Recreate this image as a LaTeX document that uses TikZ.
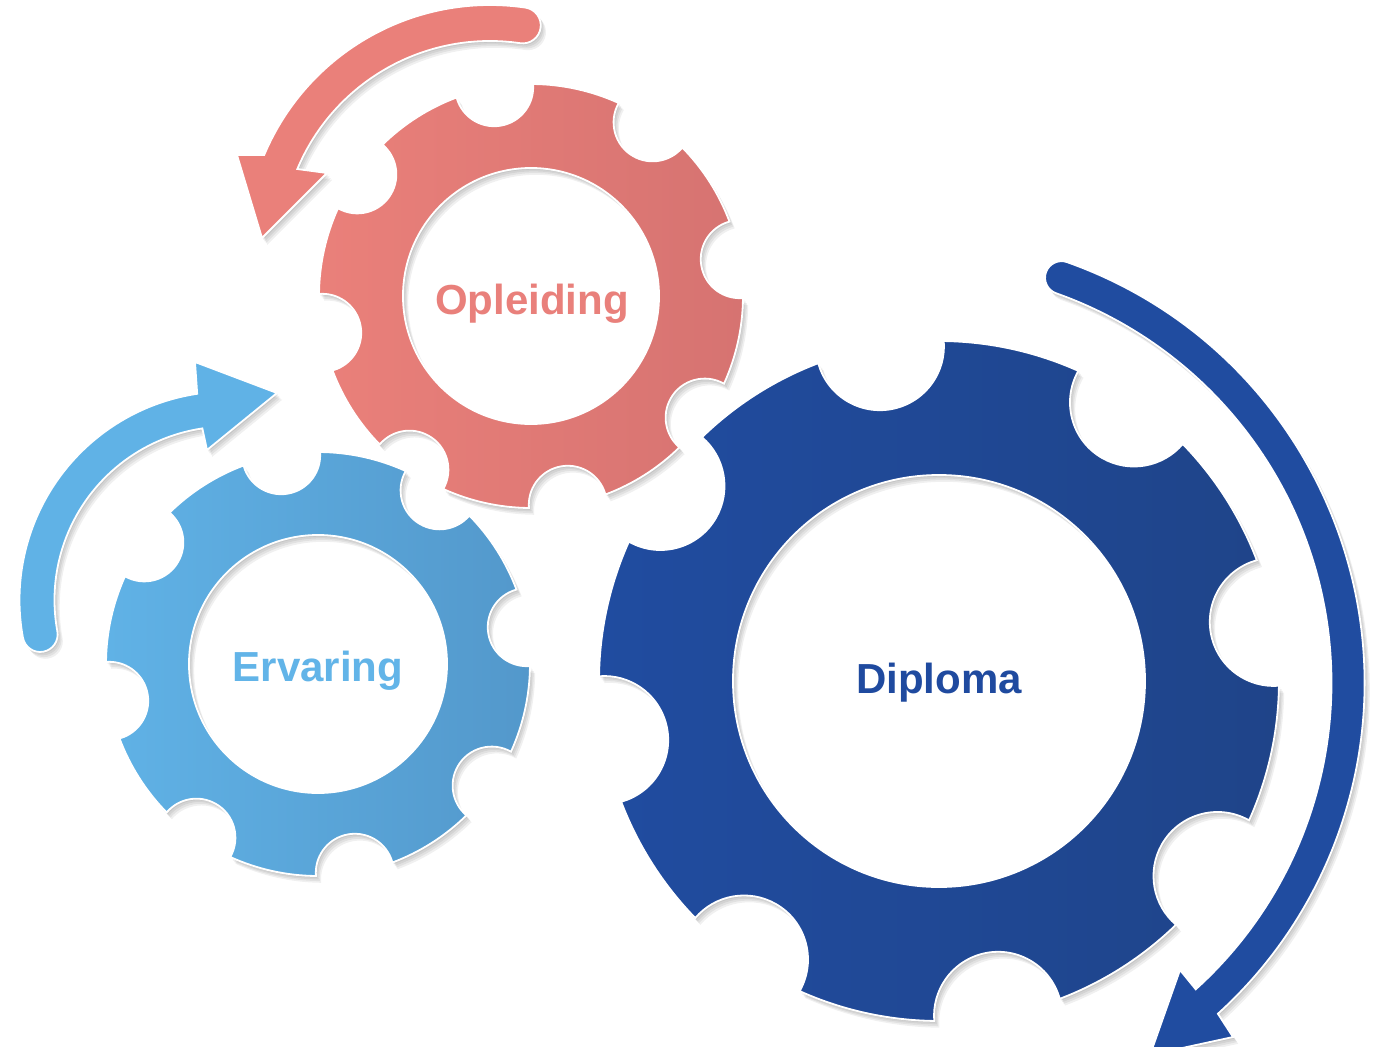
\documentclass[tikz,border=0pt]{standalone}
\usepackage{fontspec}
\setmainfont{Liberation Sans}
\definecolor{pinkA}{HTML}{EA807A}
\definecolor{pinkB}{HTML}{D67371}
\definecolor{lblueA}{HTML}{60B2E6}
\definecolor{lblueB}{HTML}{5398CB}
\definecolor{dblueA}{HTML}{204CA0}
\definecolor{dblueB}{HTML}{1F4489}
\definecolor{pinkT}{HTML}{E9807B}
\definecolor{lblueT}{HTML}{62B4E8}
\definecolor{dblueT}{HTML}{1F4A9F}

% gear outline: centre (#1,#2), outer radius #3, notch radius #4, hole radius #5
\newcommand\gearshape[5]{%
  ([shift={(#1,#2)}]260+\gd:#3)
  \foreach \k in {1,...,8}{
    arc[start angle={260+45*(\k-1)+\gd}, end angle={260+45*\k-\gd}, radius=#3]
    arc[start angle={260+45*\k-\gd/2-90}, end angle={260+45*\k+\gd/2-270}, radius=#4]
  } -- cycle
  (#1,#2) circle[radius=#5]}

\newcommand\drawgear[7]{%
  \pgfmathsetmacro\gd{2*asin(#4/(2*#3))}
  \foreach \s in {1,2,3,4}{
    \fill[softshadow, shift={(\s*1.3,\s*1.7)}] \gearshape{#1}{#2}{#3}{#4}{#5};
  }
  \path[even odd rule, left color=#6, middle color=#6, right color=#7, rimline] \gearshape{#1}{#2}{#3}{#4}{#5};
}

\newcommand\pinkarrowpath{([shift={(490,250)}]-81.7:245) arc[start angle=-81.7, end angle=-157.2, radius=245]
  -- (237,155) -- (262,238) -- (327,173)
  -- ([shift={(490,250)}]-157.2:209) arc[start angle=-157.2, end angle=-81.7, radius=209]
  arc[start angle=98.3, end angle=-81.7, radius=18] -- cycle}
\newcommand\bluearrowpath{([shift={(228,600)}]169.6:208.5) arc[start angle=169.6, end angle=261.5, radius=208.5]
  -- (195,362) -- (277,393) -- (207,450)
  -- ([shift={(228,600)}]261.5:173.5) arc[start angle=261.5, end angle=169.6, radius=173.5]
  arc[start angle=349.6, end angle=529.6, radius=17.5] -- cycle}
\newcommand\darkarrowpath{([shift={(918,683)}]-70.5:446.5) arc[start angle=-70.5, end angle=47.8, radius=446.5]
  -- (1233,1037) -- (1150,1055) -- (1180,970)
  -- ([shift={(918,683)}]47.8:413.5) arc[start angle=47.8, end angle=-70.5, radius=413.5]
  arc[start angle=109.5, end angle=289.5, radius=16.5] -- cycle}

\begin{document}
\begin{tikzpicture}[x=1pt, y=-1pt,
  softshadow/.style={black, opacity=0.06, even odd rule},
  rimline/.style={draw=white, line width=1.8pt},
  label/.style={font=\fontsize{42}{50}\selectfont\bfseries, anchor=base, inner sep=0pt}]
\useasboundingbox (0,0) rectangle (1377,1047);
\clip (0,0) rectangle (1377,1047);
\fill[white] (0,0) rectangle (1377,1047);

% arrows
\foreach \s in {1,2,3,4}{
  \fill[softshadow, shift={(\s*1.3,\s*1.7)}] \pinkarrowpath;
  \fill[softshadow, shift={(\s*1.3,\s*1.7)}] \bluearrowpath;
  \fill[softshadow, shift={(\s*1.3,\s*1.7)}] \darkarrowpath;
}
\path[fill=pinkA, rimline] \pinkarrowpath;
\path[fill=lblueA, rimline] \bluearrowpath;
\path[fill=dblueA, rimline] \darkarrowpath;

% gears
\drawgear{531}{296}{212}{39}{128}{pinkA}{pinkB}
\drawgear{318}{664}{212}{39}{129}{lblueA}{lblueB}
\drawgear{939}{681}{340}{64}{206}{dblueA}{dblueB}

% labels
\node[label, text=pinkT] (opl) at (532,314) {Opleiding};
\node[label, text=lblueT] (erv) at (318,681) {Ervaring};
\node[label, text=dblueT] (dip) at (939,693) {Diploma};
\end{tikzpicture}
\end{document}
